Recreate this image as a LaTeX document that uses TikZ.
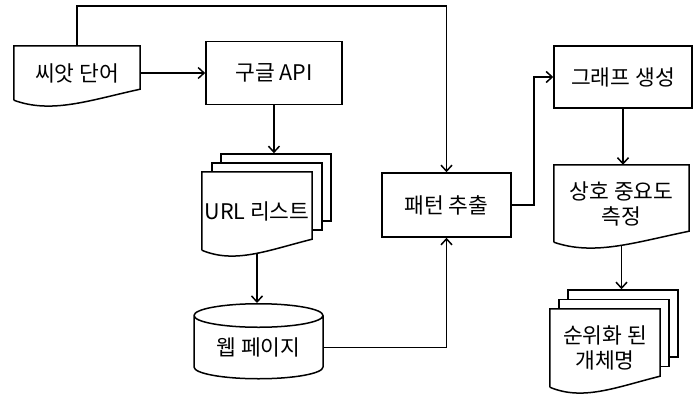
\documentclass[tikz,border=0pt]{standalone}
\usepackage{fontspec}
\setmainfont{Noto Sans CJK KR}
\usepackage{tikz}
\usetikzlibrary{positioning}
\usetikzlibrary{backgrounds}
\usetikzlibrary{calc}
\usetikzlibrary{shapes.geometric}
\usetikzlibrary{arrows.meta}

% outline of a document node, wavy bottom
\newcommand{\docline}[1]{%
  \draw[line width=1.5pt,fill=white] let \p1=(#1.south west), \p2=(#1.north east) in
    (\x1,\y1) -- (\x1,\y2) -- (\x2,\y2) -- (\x2,\y1+11pt)
    .. controls (\x1*0.4+\x2*0.6,\y1) and (\x1*0.7+\x2*0.3,\y1-14pt) .. (\x1,\y1);}

\begin{document}
\begin{tikzpicture}[x=1pt,y=-1pt,
  font=\fontsize{21.5}{25}\selectfont,
  box/.style={rectangle,draw,line width=1.5pt,fill=white,align=center,inner sep=0pt},
  doc/.style={rectangle,align=center,inner sep=0pt},
  page/.style={rectangle,draw,line width=1.5pt,fill=white,inner sep=0pt},
  store/.style={cylinder,shape border rotate=90,aspect=0.28,draw,line width=1.5pt,
    fill=white,inner sep=0pt,minimum width=129pt,minimum height=75pt},
  arr/.style={-{Straight Barb[length=6pt,width=11pt]},line width=1.5pt}
]
  \useasboundingbox (0,0) rectangle (698,396);

  % input side
  \node[doc,minimum width=126pt,minimum height=54pt] (seed) at (77,73) {씨앗 단어};
  \node[box,minimum width=136pt,minimum height=63pt,right=65pt of seed] (google) {구글 API};
  \node[doc,minimum width=110pt,minimum height=78pt] (url) at (257,211) {URL 리스트};
  \node[store] (web) at (258.5,347.5) {웹 페이지};
  \node[box,minimum width=129pt,minimum height=64pt] (pattern) at (446.5,205) {패턴 추출};
  % output side
  \node[box,minimum width=138pt,minimum height=62pt] (graph) at (623,77) {그래프 생성};
  \node[doc,minimum width=135pt,minimum height=77pt] (measure) at (621.5,203.5) {상호 중요도\\측정};
  \node[doc,minimum width=110pt,minimum height=78pt] (rank) at (605,348) {순위화 된\\개체명};

  \begin{scope}[on background layer]
    \node[page,minimum width=110pt,minimum height=67pt] (url3) at (276,187.5) {};
    \node[page,minimum width=110pt,minimum height=67pt] (url2) at (267,196.5) {};
    \docline{url}
    \docline{seed}
    \docline{measure}
    \node[page,minimum width=110pt,minimum height=67pt] (rank3) at (623,323.5) {};
    \node[page,minimum width=110pt,minimum height=67pt] (rank2) at (614,333) {};
    \docline{rank}
  \end{scope}

  \draw[arr] (seed.north) -- ++(0,-40) -| (pattern.north);
  \draw[arr] (seed) -- (google);
  \draw[arr] (google.south) -- (google.south |- url3.north);
  \draw[arr] ([yshift=-3.5pt]url.south) -- (url.south |- web.north);
  \draw[arr] (web.east) -| (pattern.south);
  \draw[arr] (pattern.east) -- ++(22,0) |- (graph.west);
  \draw[arr] (graph.south) -- (graph.south |- measure.north);
  \draw[arr] ([yshift=-3.5pt]measure.south) -- (measure.south |- rank3.north);
\end{tikzpicture}
\end{document}
